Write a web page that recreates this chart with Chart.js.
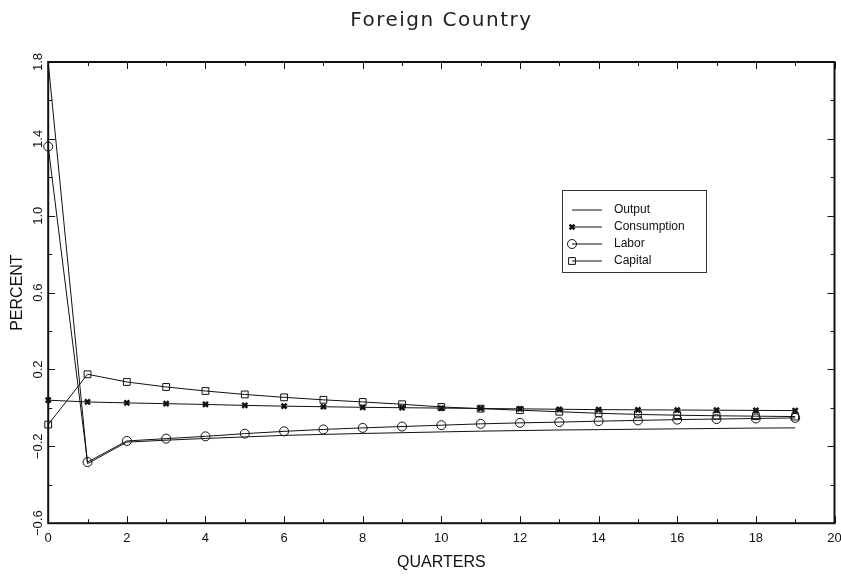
<!DOCTYPE html>
<html>
<head>
<meta charset="utf-8">
<script src="https://cdn.jsdelivr.net/npm/chart.js@4.4.1/dist/chart.umd.min.js"></script>
<style>
  html, body { margin: 0; padding: 0; background: #fff; }
  #wrap { width: 841px; height: 577px; }
</style>
</head>
<body>
<div id="wrap"><canvas id="grafico"></canvas></div>
<script>
// =====================
// DATOS
// =====================
const quarters = [0, 1, 2, 3, 4, 5, 6, 7, 8, 9, 10, 11, 12, 13, 14, 15, 16, 17, 18, 19];

const output = [1.80, -0.29, -0.178, -0.168, -0.159, -0.151, -0.143, -0.138, -0.133, -0.129,
                -0.125, -0.121, -0.118, -0.115, -0.113, -0.111, -0.109, -0.107, -0.105, -0.104];
const consumption = [0.040, 0.031, 0.026, 0.022, 0.018, 0.013, 0.009, 0.006, 0.003, 0.001,
                     -0.001, -0.003, -0.005, -0.007, -0.009, -0.010, -0.011, -0.012, -0.013, -0.014];
const labor = [1.36, -0.282, -0.172, -0.160, -0.148, -0.134, -0.122, -0.112, -0.104, -0.097,
               -0.090, -0.083, -0.078, -0.074, -0.069, -0.065, -0.061, -0.058, -0.055, -0.052];
const capital = [-0.087, 0.175, 0.135, 0.109, 0.088, 0.070, 0.055, 0.042, 0.031, 0.019,
                 0.005, -0.004, -0.012, -0.020, -0.028, -0.034, -0.038, -0.041, -0.043, -0.045];

const xTickLabels = ['0', '2', '4', '6', '8', '10', '12', '14', '16', '18', '20'];
const yTickValues = [1.8, 1.4, 1.0, 0.6, 0.2, -0.2, -0.6];
const chartTitle = 'Foreign Country';

const INK = '#111';
const FONT = "'Liberation Sans', 'DejaVu Sans', sans-serif";

function puntos(serie) {
  return quarters.map((q, i) => ({ x: q, y: serie[i] }));
}

// =====================
// PLUGIN: título, marco, marcas internas, etiquetas Y giradas y leyenda
// =====================
const marcoPlugin = {
  id: 'marco',
  afterDatasetsDraw(chart) {
    const { ctx, chartArea: a, scales } = chart;
    const xs = scales.x, ys = scales.y;
    ctx.save();
    ctx.strokeStyle = INK;

    // título centrado sobre el área del gráfico
    ctx.fillStyle = '#222';
    ctx.font = "20px 'DejaVu Sans', sans-serif";
    ctx.textAlign = 'center';
    ctx.textBaseline = 'middle';
    if ('letterSpacing' in ctx) ctx.letterSpacing = '1.5px';
    ctx.fillText(chartTitle, (a.left + a.right) / 2, 21);
    if ('letterSpacing' in ctx) ctx.letterSpacing = '0px';

    // marco grueso
    ctx.lineWidth = 2;
    ctx.strokeRect(a.left, a.top, a.right - a.left, a.bottom - a.top);

    // marcas en X (cada trimestre, largas en pares)
    ctx.lineWidth = 1;
    for (let v = xs.min; v <= xs.max; v++) {
      const px = Math.round(xs.getPixelForValue(v)) + 0.5;
      const len = v % 2 === 0 ? 7 : 4;
      ctx.beginPath();
      ctx.moveTo(px, a.bottom); ctx.lineTo(px, a.bottom - len);
      ctx.moveTo(px, a.top); ctx.lineTo(px, a.top + len);
      ctx.stroke();
    }

    // marcas en Y (cada 0.2, largas en las etiquetadas)
    for (let i = 0; i <= 12; i++) {
      const v = +(ys.min + 0.2 * i).toFixed(1);
      const py = Math.round(ys.getPixelForValue(v)) + 0.5;
      const len = yTickValues.includes(v) ? 7 : 4;
      ctx.beginPath();
      ctx.moveTo(a.left, py); ctx.lineTo(a.left + len, py);
      ctx.moveTo(a.right, py); ctx.lineTo(a.right - len, py);
      ctx.stroke();
    }

    // etiquetas Y giradas
    ctx.fillStyle = INK;
    ctx.font = '13px ' + FONT;
    yTickValues.forEach(v => {
      const py = ys.getPixelForValue(v);
      const txt = (v < 0 ? '\u2212' : '') + Math.abs(v).toFixed(1);
      ctx.save();
      ctx.translate(a.left - 10, py);
      ctx.rotate(-Math.PI / 2);
      ctx.fillText(txt, 0, 0);
      ctx.restore();
    });

    // leyenda
    const bx = 562, by = 190, bw = 144, bh = 82;
    ctx.lineWidth = 1;
    ctx.strokeStyle = '#333';
    ctx.strokeRect(bx + 0.5, by + 0.5, bw, bh);
    ctx.font = '12px ' + FONT;
    ctx.textAlign = 'left';
    chart.data.datasets.forEach((ds, i) => {
      const y = by + 20 + i * 17;
      const x0 = bx + 10, x1 = bx + 40;
      ctx.strokeStyle = INK;
      ctx.lineWidth = 1;
      ctx.beginPath();
      ctx.moveTo(x0, y); ctx.lineTo(x1, y);
      ctx.stroke();
      if (ds.pointStyle && ds.pointRadius > 0) {
        ctx.fillStyle = 'rgba(0,0,0,0)';
        ctx.lineWidth = ds.pointBorderWidth || 1;
        Chart.helpers.drawPoint(ctx, {
          pointStyle: ds.pointStyle, radius: ds.pointRadius, rotation: 0,
          borderWidth: ds.pointBorderWidth || 1
        }, x0, y);
      }
      ctx.fillStyle = INK;
      ctx.fillText(ds.label, bx + 52, y);
    });
    ctx.restore();
  }
};

// =====================
// GRÁFICO
// =====================
const serieBase = {
  borderColor: INK,
  borderWidth: 1,
  pointBorderColor: INK,
  pointBackgroundColor: 'transparent',
  tension: 0,
  clip: 8
};

new Chart(document.getElementById('grafico'), {
  type: 'line',
  data: {
    datasets: [
      { ...serieBase, label: 'Output', data: puntos(output), pointRadius: 0, pointStyle: false },
      { ...serieBase, label: 'Consumption', data: puntos(consumption), pointStyle: 'crossRot', pointRadius: 3.5, pointBorderWidth: 2.5 },
      { ...serieBase, label: 'Labor', data: puntos(labor), pointStyle: 'circle', pointRadius: 4.5, pointBorderWidth: 1 },
      { ...serieBase, label: 'Capital', data: puntos(capital), pointStyle: 'rect', pointRadius: 4.8, pointBorderWidth: 1 }
    ]
  },
  options: {
    responsive: true,
    maintainAspectRatio: false,
    animation: false,
    layout: { padding: { top: 62, left: 0, right: 6, bottom: 0 } },
    plugins: {
      legend: { display: false },
      tooltip: { enabled: false },
      title: { display: false }
    },
    scales: {
      x: {
        type: 'linear',
        min: 0,
        max: 20,
        grid: { display: false, drawTicks: false },
        border: { display: false },
        afterFit: s => { s.paddingRight = 0; s.paddingLeft = 0; },
        ticks: {
          stepSize: 1,
          autoSkip: false,
          maxRotation: 0,
          padding: 7,
          color: INK,
          font: { family: FONT, size: 13 },
          callback: v => xTickLabels.includes(String(v)) ? String(v) : ''
        },
        title: {
          display: true,
          text: 'QUARTERS',
          color: INK,
          font: { family: FONT, size: 16 },
          padding: { top: 0, bottom: 5 }
        }
      },
      y: {
        type: 'linear',
        min: -0.6,
        max: 1.8,
        grid: { display: false, drawTicks: false },
        border: { display: false },
        ticks: { display: false },
        title: {
          display: true,
          text: 'PERCENT',
          color: INK,
          font: { family: FONT, size: 16 },
          padding: { top: 8, bottom: 21 }
        }
      }
    }
  },
  plugins: [marcoPlugin]
});
</script>
</body>
</html>
